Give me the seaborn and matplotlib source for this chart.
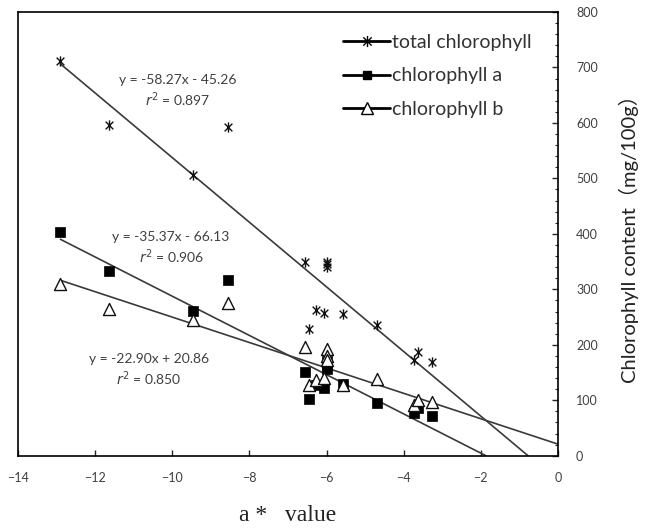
import numpy as np
import pandas as pd
import matplotlib
matplotlib.use("Agg")
import matplotlib.pyplot as plt
from matplotlib.lines import Line2D
from matplotlib.path import Path
from matplotlib.ticker import MultipleLocator
import seaborn as sns

# ---- data ----
a_value = [-12.9, -11.65, -9.45, -8.55, -6.56, -6.46, -6.28, -6.07,
           -6.0, -6.0, -6.0, -5.58, -4.70, -3.72, -3.64, -3.26]
total_chl = [712, 596, 507, 593, 350, 228, 263, 258,
             350, 345, 340, 255, 235, 172, 187, 169]
chl_a = [403, 333, 261, 317, 151, 102, 127, 122,
         170, 163, 157, 129, 95, 77, 86, 72]
chl_b = [309, 264, 244, 275, 196, 127, 136, 140,
         192, 180, 172, 127, 138, 91, 100, 97]

series_names = ["total chlorophyll", "chlorophyll a", "chlorophyll b"]
slopes = [-58.27, -35.37, -22.90]
intercepts = [-45.26, -66.13, 20.86]
eq_texts = ["y = -58.27x - 45.26", "y = -35.37x - 66.13", "y = -22.90x + 20.86"]
r2_texts = ["0.897", "0.906", "0.850"]

sns.set_theme(style="white")
plt.rcParams["font.family"] = ["Lato", "Noto Sans CJK JP", "DejaVu Sans"]
plt.rcParams["mathtext.fontset"] = "dejavusans"

# Excel-style star marker: X plus vertical bar
star = Path([(-0.75, -0.75), (0.75, 0.75), (-0.75, 0.75), (0.75, -0.75),
             (0, -1), (0, 1)],
            [Path.MOVETO, Path.LINETO, Path.MOVETO, Path.LINETO,
             Path.MOVETO, Path.LINETO])

df = pd.DataFrame({
    "x": a_value * 3,
    "y": total_chl + chl_a + chl_b,
    "series": [series_names[0]] * len(a_value) + [series_names[1]] * len(a_value)
              + [series_names[2]] * len(a_value),
})

fig = plt.figure(figsize=(6.47, 5.31), dpi=100)
ax = fig.add_axes([0.0278, 0.1418, 0.8346, 0.8356])

# regression lines from the chart's equations
x_start = min(a_value)
line_rows = []
for name, m, b in zip(series_names, slopes, intercepts):
    x_end = min(0.0, -b / m)
    for xx in (x_start, x_end):
        line_rows.append({"x": xx, "y": m * xx + b, "series": name})
ldf = pd.DataFrame(line_rows)
sns.lineplot(data=ldf, x="x", y="y", units="series", estimator=None,
             color="#3a3a3a", lw=1.2, ax=ax, legend=False)

sub = df[df.series == series_names[0]]
sns.scatterplot(data=sub, x="x", y="y", marker=star, s=55, color="#111111",
                edgecolor="#111111", linewidth=1.0, ax=ax, legend=False, zorder=3)
sub = df[df.series == series_names[1]]
sns.scatterplot(data=sub, x="x", y="y", marker="s", s=42, color="black",
                edgecolor="black", linewidth=0.5, ax=ax, legend=False, zorder=3)
sub = df[df.series == series_names[2]]
sns.scatterplot(data=sub, x="x", y="y", marker="^", s=75, facecolor="white",
                edgecolor="#111111", linewidth=1.0, ax=ax, legend=False, zorder=3)

ax.set_xlim(-14, 0)
ax.set_ylim(0, 800)
ax.xaxis.set_major_locator(MultipleLocator(2))
ax.yaxis.set_major_locator(MultipleLocator(100))
ax.yaxis.set_minor_locator(MultipleLocator(20))
ax.yaxis.tick_right()
ax.yaxis.set_label_position("right")
ax.tick_params(axis="x", which="major", direction="in", length=4, width=1,
               bottom=True, top=False, labelsize=9, labelcolor="#404040", pad=12)
ax.tick_params(axis="y", which="major", direction="in", length=4, width=1,
               right=True, left=False, labelsize=9, labelcolor="#404040", pad=13)
ax.tick_params(axis="y", which="minor", direction="in", length=2.5, width=0.8,
               right=True, left=False)
for sp in ax.spines.values():
    sp.set_color("black")
    sp.set_linewidth(1.2)
    sp.set_visible(True)

ax.set_xlabel("a *   value", family=["Liberation Serif", "Noto Sans CJK JP"],
              fontsize=17, labelpad=15, color="#222222")
ax.set_ylabel("Chlorophyll content（mg/100g）", fontsize=14.5, labelpad=15,
              color="#222222")

# equations
eq_pos = [(-9.85, 677), (-10.03, 394), (-10.6, 174)]
for (ex, ey), et, rt in zip(eq_pos, eq_texts, r2_texts):
    ax.text(ex, ey, et, ha="center", va="center", fontsize=10, color="#404040")
    ax.text(ex, ey - 36, "$r^2$ = " + rt, ha="center", va="center",
            fontsize=10, color="#404040")

handles = [
    Line2D([], [], color="black", lw=2, marker=star, markersize=8,
           markeredgewidth=1.0),
    Line2D([], [], color="black", lw=2, marker="s", markersize=6),
    Line2D([], [], color="black", lw=2, marker="^", markersize=8,
           markerfacecolor="white", markeredgecolor="black"),
]
ax.legend(handles, series_names, loc="upper left", bbox_to_anchor=(0.57, 0.99),
          frameon=False, fontsize=14, handlelength=2.4, handletextpad=0.1,
          labelspacing=0.85, labelcolor="#333333")

fig.savefig("out.png", dpi=100)
